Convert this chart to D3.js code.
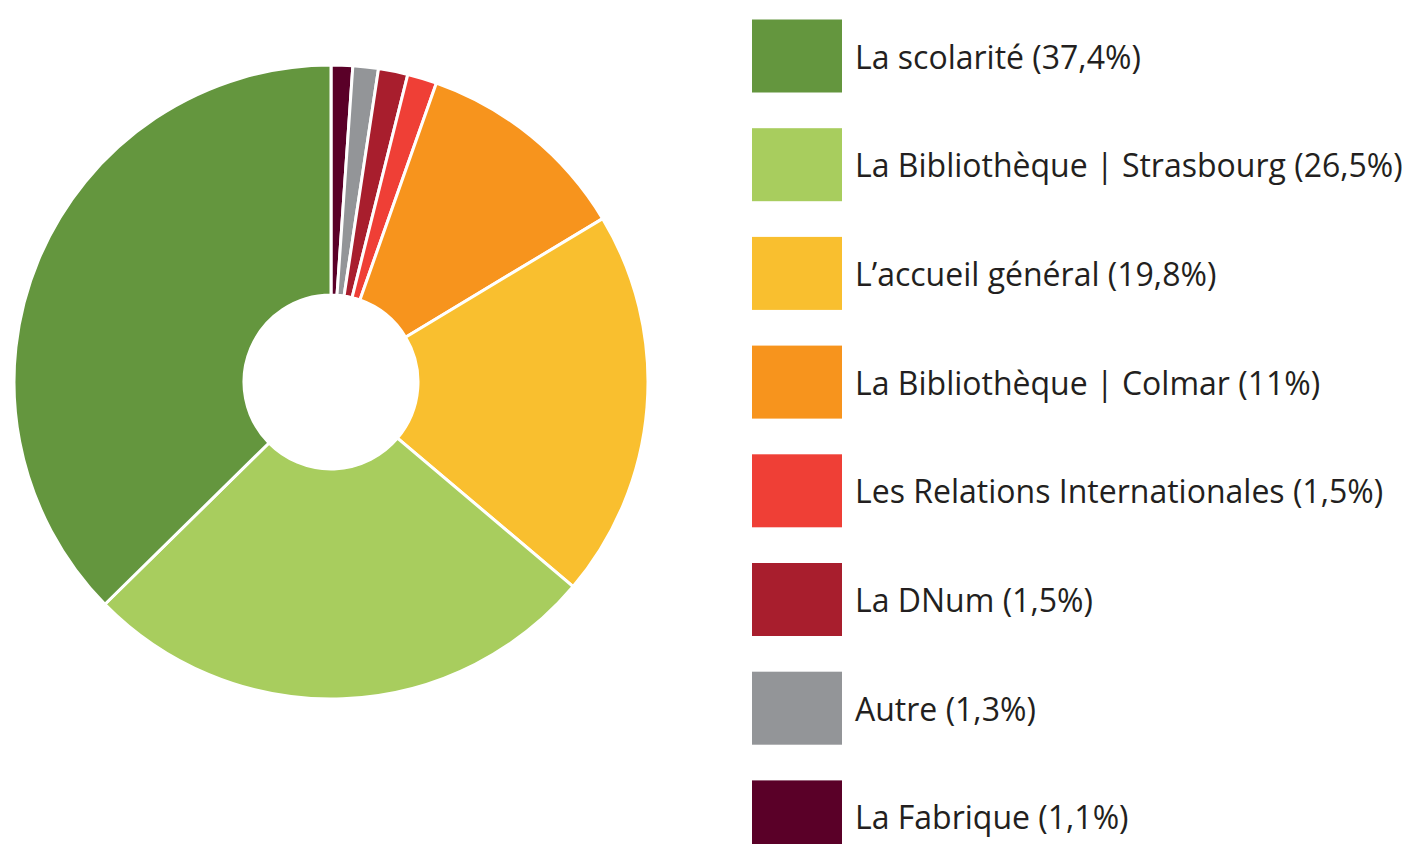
<!DOCTYPE html>
<html>
<head>
<meta charset="utf-8">
<script src="https://cdn.jsdelivr.net/npm/d3@7"></script>
<style>
  html, body { margin: 0; padding: 0; background: #fff; }
  svg { display: block; }
  .legend text { font-family: "Open Sans", sans-serif; font-size: 32px; fill: #231f20; }
</style>
</head>
<body>
<svg id="chart" width="1402" height="844"></svg>
<script>
  // legend order (top to bottom)
  var labels = ['La scolarité', 'La Bibliothèque | Strasbourg', 'L’accueil général',
    'La Bibliothèque | Colmar', 'Les Relations Internationales', 'La DNum', 'Autre', 'La Fabrique'];
  var values = [37.4, 26.5, 19.8, 11, 1.5, 1.5, 1.3, 1.1];
  var valueLabels = ['37,4%', '26,5%', '19,8%', '11%', '1,5%', '1,5%', '1,3%', '1,1%'];
  var colors = ['#64963e', '#a8cd5e', '#f9bf2f', '#f7941d', '#ef3f36', '#a81e2d', '#939598', '#5a0028'];

  var svg = d3.select('#chart');
  var cx = 331, cy = 382, outerR = 317, innerR = 87;

  var rows = labels.map(function (l, i) {
    return { label: l, value: values[i], text: valueLabels[i], color: colors[i] };
  });

  // slices go clockwise from 12 o'clock in reverse legend order
  var pie = d3.pie().sort(null).value(function (d) { return d.value; });
  var arc = d3.arc().innerRadius(innerR).outerRadius(outerR);

  svg.append('g')
    .attr('transform', 'translate(' + cx + ',' + cy + ')')
    .selectAll('path')
    .data(pie(rows.slice().reverse()))
    .join('path')
    .attr('d', arc)
    .attr('fill', function (d) { return d.data.color; })
    .attr('stroke', '#fff')
    .attr('stroke-width', 3)
    .attr('stroke-linejoin', 'round');

  var y = d3.scaleBand().domain(d3.range(rows.length)).range([19.5, 19.5 + 108.7 * rows.length]);

  var legend = svg.append('g').attr('class', 'legend')
    .selectAll('g')
    .data(rows)
    .join('g')
    .attr('transform', function (d, i) { return 'translate(752,' + y(i) + ')'; });

  legend.append('rect')
    .attr('width', 90)
    .attr('height', 73)
    .attr('fill', function (d) { return d.color; });

  legend.append('text')
    .attr('x', 103)
    .attr('y', 49)
    .text(function (d) { return d.label + ' (' + d.text + ')'; });
</script>
</body>
</html>
